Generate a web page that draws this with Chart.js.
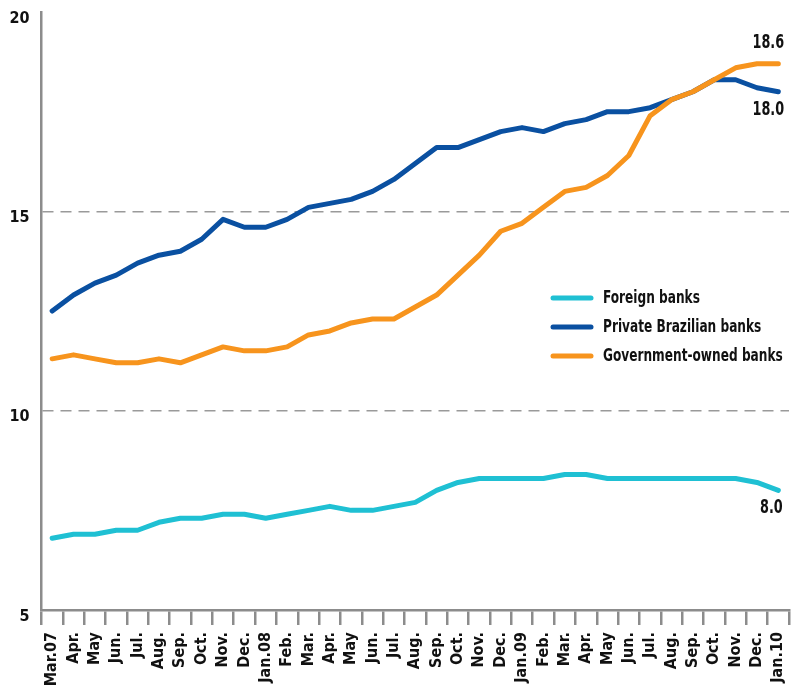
<!DOCTYPE html>
<html>
<head>
<meta charset="utf-8">
<script src="https://cdn.jsdelivr.net/npm/chart.js@4/dist/chart.umd.min.js"></script>
<style>
  html, body { margin: 0; padding: 0; background: #ffffff; }
  #wrap { width: 799px; height: 686px; position: relative; }
</style>
</head>
<body>
<div id="wrap"><canvas id="c" width="799" height="686"></canvas></div>
<script>
const categories = [
  'Mar.07','Apr.','May','Jun.','Jul.','Aug.','Sep.','Oct.','Nov.','Dec.',
  'Jan.08','Feb.','Mar.','Apr.','May','Jun.','Jul.','Aug.','Sep.','Oct.','Nov.','Dec.',
  'Jan.09','Feb.','Mar.','Apr.','May','Jun.','Jul.','Aug.','Sep.','Oct.','Nov.','Dec.',
  'Jan.10'
];
const foreignBanks = [
  6.8, 6.9, 6.9, 7.0, 7.0, 7.2, 7.3, 7.3, 7.4, 7.4,
  7.3, 7.4, 7.5, 7.6, 7.5, 7.5, 7.6, 7.7, 8.0, 8.2, 8.3, 8.3,
  8.3, 8.3, 8.4, 8.4, 8.3, 8.3, 8.3, 8.3, 8.3, 8.3, 8.3, 8.2,
  8.0
];
const privateBrazilianBanks = [
  12.5, 12.9, 13.2, 13.4, 13.7, 13.9, 14.0, 14.3, 14.8, 14.6,
  14.6, 14.8, 15.1, 15.2, 15.3, 15.5, 15.8, 16.2, 16.6, 16.6, 16.8, 17.0,
  17.1, 17.0, 17.2, 17.3, 17.5, 17.5, 17.6, 17.8, 18.0, 18.3, 18.3, 18.1,
  18.0
];
const governmentOwnedBanks = [
  11.3, 11.4, 11.3, 11.2, 11.2, 11.3, 11.2, 11.4, 11.6, 11.5,
  11.5, 11.6, 11.9, 12.0, 12.2, 12.3, 12.3, 12.6, 12.9, 13.4, 13.9, 14.5,
  14.7, 15.1, 15.5, 15.6, 15.9, 16.4, 17.4, 17.8, 18.0, 18.3, 18.6, 18.7,
  18.7
];
const seriesNames = ['Foreign banks', 'Private Brazilian banks', 'Government-owned banks'];
const seriesColors = ['#1fc0d3', '#0a50a1', '#f7941d'];
const endLabels = ['8.0', '18.0', '18.6'];
const yTicks = [5, 10, 15, 20];

const FONT = "'DejaVu Sans Condensed', 'Liberation Sans Narrow', sans-serif";
const AXIS_GRAY = '#8c8c8c';

function drawNarrowText(ctx, text, x, y, align, sx) {
  ctx.save();
  ctx.translate(x, y);
  ctx.scale(sx, 1);
  ctx.textAlign = align;
  ctx.fillText(text, 0, 0);
  ctx.restore();
}

const legendPlugin = {
  id: 'customLegend',
  afterDraw(chart) {
    const ctx = chart.ctx;
    const x0 = 553, x1 = 591, tx = 603;
    const rows = [298, 327, 356];
    ctx.save();
    ctx.font = "bold 18px " + FONT;
    ctx.textBaseline = 'middle';
    chart.data.datasets.forEach((ds, i) => {
      const y = rows[i];
      ctx.strokeStyle = ds.borderColor;
      ctx.lineWidth = 5;
      ctx.lineCap = 'round';
      ctx.beginPath();
      ctx.moveTo(x0, y);
      ctx.lineTo(x1, y);
      ctx.stroke();
      ctx.fillStyle = '#111';
      drawNarrowText(ctx, ds.label, tx, y, 'left', 0.75);
    });
    ctx.restore();
  }
};

const endLabelPlugin = {
  id: 'endLabels',
  afterDatasetsDraw(chart) {
    const ctx = chart.ctx;
    const offsets = [[-7, 18], [-10, 18], [-10, -21]];
    ctx.save();
    ctx.font = "bold 19px " + FONT;
    ctx.fillStyle = '#111';
    ctx.textBaseline = 'middle';
    chart.data.datasets.forEach((ds, i) => {
      const meta = chart.getDatasetMeta(i);
      const pt = meta.data[meta.data.length - 1];
      drawNarrowText(ctx, endLabels[i], pt.x + offsets[i][0], pt.y + offsets[i][1], 'center', 0.75);
    });
    ctx.restore();
  }
};

const seriesData = [foreignBanks, privateBrazilianBanks, governmentOwnedBanks];
const orders = [2, 1, 0];

new Chart(document.getElementById('c'), {
  type: 'line',
  data: {
    labels: categories,
    datasets: seriesData.map((d, i) => ({
      label: seriesNames[i],
      data: d,
      borderColor: seriesColors[i],
      backgroundColor: seriesColors[i],
      borderWidth: 5,
      pointRadius: 0,
      tension: 0,
      borderCapStyle: 'round',
      borderJoinStyle: 'round',
      fill: false,
      order: orders[i]
    }))
  },
  options: {
    responsive: false,
    animation: false,
    devicePixelRatio: 1,
    layout: { padding: { left: 0, top: 12, right: 10, bottom: 0 } },
    plugins: {
      legend: { display: false },
      tooltip: { enabled: false }
    },
    scales: {
      x: {
        type: 'category',
        offset: true,
        grid: {
          display: true,
          offset: true,
          drawOnChartArea: false,
          drawTicks: true,
          tickLength: 15,
          color: AXIS_GRAY,
          lineWidth: 2.5
        },
        border: { display: true, color: AXIS_GRAY, width: 2.5 },
        ticks: {
          autoSkip: false,
          maxRotation: 90,
          minRotation: 90,
          padding: 7,
          color: '#111',
          font: { family: FONT, size: 16, weight: 'bold' }
        },
        afterFit(scale) {
          scale.height = 76;
          scale.paddingLeft = 0;
          scale.paddingRight = 0;
        }
      },
      y: {
        min: 5,
        max: 20,
        afterBuildTicks(scale) { scale.ticks = yTicks.map(v => ({ value: v })); },
        grid: {
          drawTicks: false,
          color: ctx => (ctx.tick && (ctx.tick.value === 10 || ctx.tick.value === 15)) ? '#9a9a9a' : 'rgba(0,0,0,0)',
          lineWidth: 1.5
        },
        border: { display: true, color: AXIS_GRAY, width: 2.5, dash: [11, 7] },
        ticks: {
          padding: 12,
          labelOffset: 6.5,
          color: '#111',
          font: { family: FONT, size: 16, weight: 'bold' }
        },
        afterFit(scale) {
          scale.width = 41.5;
          scale.paddingTop = 0;
          scale.paddingBottom = 0;
        }
      }
    }
  },
  plugins: [legendPlugin, endLabelPlugin]
});
</script>
</body>
</html>
